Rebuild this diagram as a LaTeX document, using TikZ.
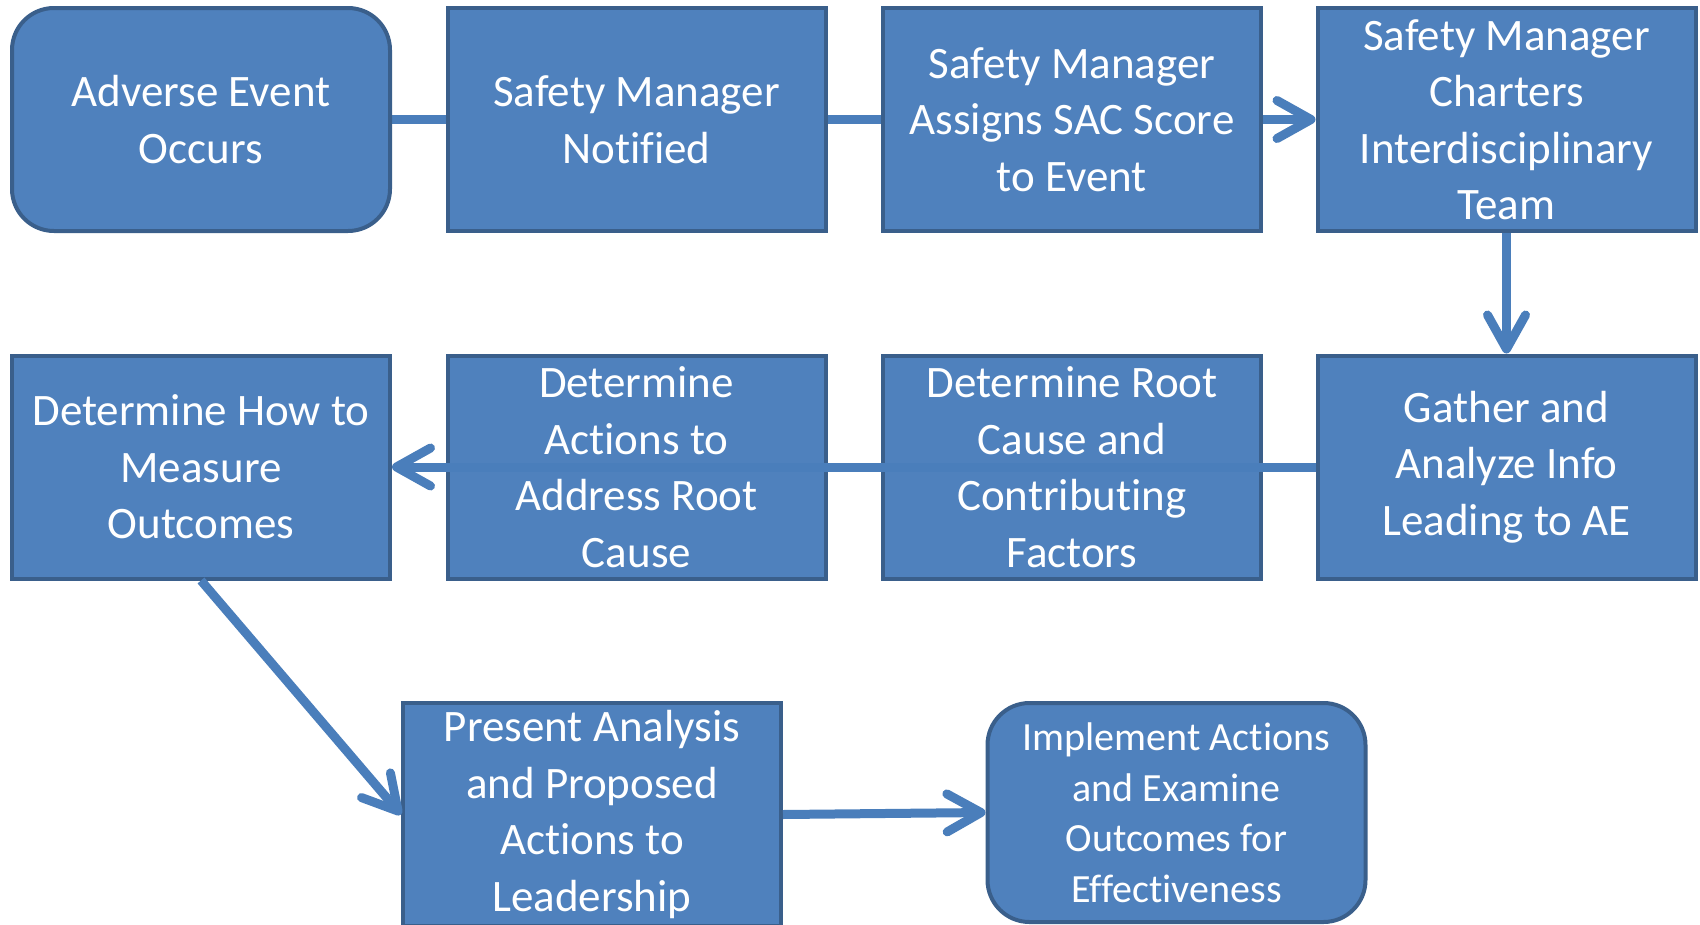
\documentclass[tikz,border=0pt]{standalone}
\usepackage{fontspec}
\setmainfont{Carlito}[Ligatures=NoCommon]
\usetikzlibrary{arrows.meta}
\pgfdeclarelayer{background}
\pgfsetlayers{background,main}
\definecolor{boxc}{HTML}{4F81BD}
\definecolor{bordc}{HTML}{3A5F8B}
\definecolor{linec}{HTML}{4A7EBB}
\begin{document}
\begin{tikzpicture}[x=1pt,y=-1pt,
  box/.style={draw=bordc, fill=boxc, line width=4pt, minimum width=378pt, minimum height=223pt, inner sep=0pt},
  rbox/.style={box, rounded corners=42pt},
  txt/.style={text=white, align=center, inner sep=0pt, font=\fontsize{45pt}{56.5pt}\selectfont},
  stxt/.style={txt, font=\fontsize{40pt}{50.5pt}\selectfont},
  ln/.style={draw=linec, line width=9pt},
  arr/.style={ln, -{Straight Barb[length=34pt,width=38pt,line cap=round,line join=round]}}
]
\useasboundingbox (0,0) rectangle (1700,924);
\node[rbox, label={[txt]center:{Adverse Event\\Occurs}}] (b1) at (201,119.5) {};
\node[box, label={[txt]center:{Safety Manager\\Notified}}] (b2) at (636.5,119.5) {};
\node[box, label={[txt]center:{Safety Manager\\Assigns SAC Score\\to Event}}] (b3) at (1072,119.5) {};
\node[box, label={[txt]center:{Safety Manager\\Charters\\Interdisciplinary\\Team}}] (b4) at (1506.5,119.5) {};
\node[box, label={[txt]center:{Determine How to\\Measure\\Outcomes}}] (b5) at (201,467) {};
\node[box, label={[txt]center:{Determine\\Actions to\\Address Root\\Cause}}] (b6) at (636.5,467) {};
\node[box, label={[txt]center:{Determine Root\\Cause and\\Contributing\\Factors}}] (b7) at (1072,467) {};
\node[box, label={[txt]center:{Gather and\\Analyze Info\\Leading to AE}}] (b8) at (1506.5,467) {};
\node[box, label={[txt]center:{Present Analysis\\and Proposed\\Actions to\\Leadership}}] (b9) at (592,814.5) {};
\node[rbox, minimum height=219pt, label={[stxt]center:{Implement Actions\\and Examine\\Outcomes for\\Effectiveness}}] (b10) at (1176.5,812.5) {};
\begin{pgfonlayer}{background}
\draw[ln] (b1.east) -- (b2.west);
\draw[ln] (b2.east) -- (b3.west);
\end{pgfonlayer}
\draw[arr] (b3.east) -- (b4.west);
\draw[arr] (b4.south) -- (b8.north);
\draw[arr] (b8.west) -- (b5.east);
\draw[arr] (b5.south) -- (b9.west);
\draw[arr] (b9.east) -- (b10.west);
\end{tikzpicture}
\end{document}
